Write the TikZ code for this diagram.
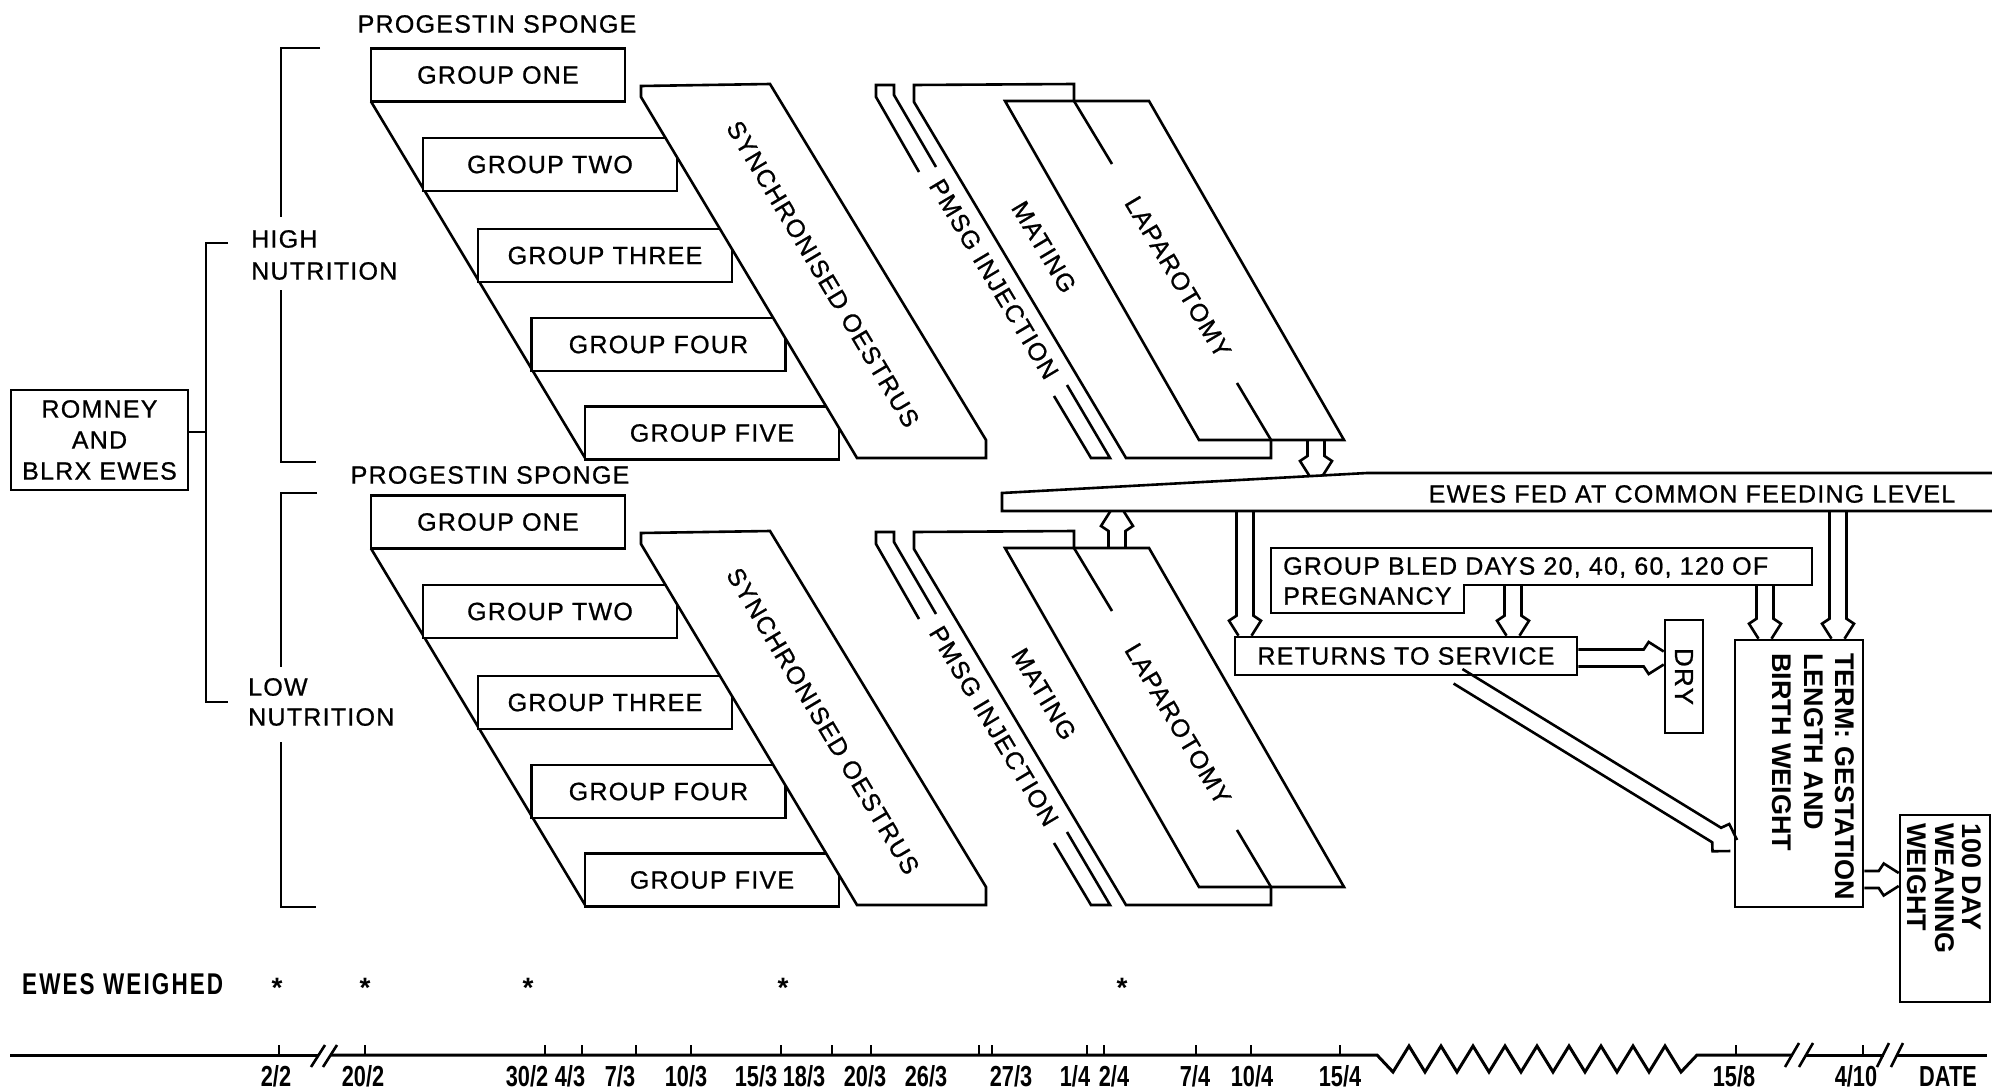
\documentclass[tikz,border=0pt]{standalone}
\usepackage{fontspec}
\setmainfont{Liberation Sans}
\newfontfamily\lsp{Liberation Sans}[LetterSpace=5, FakeBold=0.8]
\newfontfamily\cnd{Liberation Sans}[FakeStretch=0.75]
\newfontfamily\cndsp{Liberation Sans}[FakeStretch=0.75, LetterSpace=7]
\usetikzlibrary{calc}

\tikzset{
  ln/.style={line width=2.6pt, line join=miter},
  box/.style={ln, draw, fill=white, inner sep=0pt},
  gbox/.style={box, minimum width=254pt, minimum height=53pt, font=\lsp\fontsize{25}{30}\selectfont},
  txt/.style={inner sep=0pt, font=\lsp\fontsize{25}{30}\selectfont},
  btxt/.style={inner sep=0pt, font=\bfseries\fontsize{27}{31.5}\selectfont},
  lbl/.style={inner sep=0pt, anchor=base, font=\cnd\bfseries\fontsize{29}{32}\selectfont},
  slant/.style={txt, rotate=-59.2},
}

\newcommand\blockarrow[2]{%
  \path let \p1=(#1), \p2=(#2),
     \n1={atan2(\y2-\y1,\x2-\x1)}, \n2={veclen(\x2-\x1,\y2-\y1)} in
     \pgfextra{\xdef\BAang{\n1}\xdef\BAlen{\n2}};
  \draw[ln, shift={(#1)}, rotate=\BAang]
    (0pt,8.5pt) -- ({\BAlen*1pt-20pt},8.5pt) -- ({\BAlen*1pt-15pt},16pt) -- ({\BAlen*1pt},6.5pt)
    (0pt,-8.5pt) -- ({\BAlen*1pt-20pt},-8.5pt) -- ({\BAlen*1pt-15pt},-16pt) -- ({\BAlen*1pt},-6.5pt);
}

\newcommand\phaseblock[1]{%
  \draw[ln] (371,101.5) -- (586,459.5);
  \node[gbox] (#1g1) at (498,75) {GROUP ONE};
  \node[gbox] (#1g2) at (550,164.5) {GROUP TWO};
  \node[gbox] (#1g3) at (605,255.5) {GROUP THREE};
  \node[gbox] (#1g4) at (658.5,344.5) {GROUP FOUR};
  \node[gbox] (#1g5) at (712,433) {GROUP FIVE};
  \draw[ln, fill=white] (641,86) -- (770,84) -- (986,440) -- (986,458) -- (857,458) -- (641,97) -- cycle;
  \node[slant] (#1oes) at (823,274) {SYNCHRONISED OESTRUS};
  \draw[ln] (919,172) -- (876,97) -- (876,85) -- (894,85) -- (894,95) -- (936,167);
  \draw[ln] (1054,396) -- (1091,458) -- (1110,458) -- (1067,385);
  \node[slant] (#1pmsg) at (994,279) {PMSG INJECTION};
  \draw[ln] (1074,101) -- (1074,84) -- (914,85) -- (914,102) -- (1126,458) -- (1271,458) -- (1271,440);
  \draw[ln] (1074,101) -- (1112,164);
  \draw[ln] (1237,383) -- (1271,440);
  \draw[ln] (1005,101) -- (1149,101) -- (1344,440) -- (1199,440) -- cycle;
  \node[slant] (#1mat) at (1044,247) {MATING};
  \node[slant] (#1lap) at (1178,277) {LAPAROTOMY};
  \coordinate (#1lapB) at (1316,440);
  \coordinate (#1lapT) at (1117,101);
}

\begin{document}
\begin{tikzpicture}[x=1pt,y=-1pt]
\fill[white] (0,0) rectangle (1992,1092);
\useasboundingbox (0,0) rectangle (1992,1092);

% left part
\node[box, minimum width=177pt, minimum height=100pt, align=center, font=\lsp\fontsize{25}{31}\selectfont] (romney) at (99.5,440) {ROMNEY\\AND\\BLRX EWES};
\draw[ln] ([yshift=8pt]romney.east) -- (206,432);
\draw[ln] (228,243) -- (206,243) -- (206,702) -- (228,702);
\node[txt, align=left, anchor=west, font=\lsp\fontsize{25}{32}\selectfont] (high) at (251,255) {HIGH\\NUTRITION};
\node[txt, align=left, anchor=west] (low) at (248,702) {LOW\\NUTRITION};
\draw[ln] (320,48) -- (281,48) -- (281,217);
\draw[ln] (281,290) -- (281,462) -- (316,462);
\draw[ln] (317,493) -- (281,493) -- (281,667);
\draw[ln] (281,742) -- (281,907) -- (316,907);
\node[txt] (ps1) at (497,24) {PROGESTIN SPONGE};
\node[txt] (ps2) at (490,475) {PROGESTIN SPONGE};

\phaseblock{u}
\begin{scope}[shift={(0,447)}]\phaseblock{l}\end{scope}

% feeding bar
\draw[ln] (1992,473) -- (1367,473) -- (1002,493) -- (1002,511) -- (1992,511);
\node[txt] (feed) at (1692,494) {EWES FED AT COMMON FEEDING LEVEL};
\coordinate (barA) at (1316,476);
\coordinate (barB) at (1117,511);
\blockarrow{ulapB}{barA}
\blockarrow{llapT}{barB}

% group bled
\draw[ln] (1271,548) -- (1812,548) -- (1812,585) -- (1464,585) -- (1464,613) -- (1271,613) -- cycle;
\node[txt, align=left, anchor=north west] (bled) at (1283,557) {GROUP BLED DAYS 20, 40, 60, 120 OF\\PREGNANCY};

% boxes
\node[box, minimum width=342pt, minimum height=38pt, font=\lsp\fontsize{25}{30}\selectfont] (returns) at (1406,656) {RETURNS TO SERVICE};
\node[box, minimum width=38pt, minimum height=113pt] (dry) at (1684,676.5) {};
\node[txt, rotate=-90, font=\lsp\fontsize{26}{30}\selectfont] (drytxt) at (dry.center) {DRY};
\node[box, minimum width=128pt, minimum height=267pt] (term) at (1799,773.5) {};
\node[btxt, rotate=-90, align=left, anchor=north west] (termtxt) at (1855,653) {TERM: GESTATION\\LENGTH AND\\BIRTH WEIGHT};
\node[box, minimum width=90pt, minimum height=187pt] (wean) at (1945,908.5) {};
\node[btxt, rotate=-90, align=left, anchor=north west, font=\bfseries\fontsize{27}{27.5}\selectfont] (weantxt) at (1982,823) {100 DAY\\WEANING\\WEIGHT};

% arrows
\coordinate (b1) at (1245,511);
\coordinate (b2) at (1838,511);
\coordinate (bl1) at (1513,585);
\coordinate (bl2) at (1765,585);
\blockarrow{b1}{b1 |- returns.north}
\blockarrow{bl1}{bl1 |- returns.north}
\blockarrow{bl2}{bl2 |- term.north}
\blockarrow{b2}{b2 |- term.north}
\coordinate (rE) at ([yshift=-2pt]returns.east);
\blockarrow{rE}{rE -| dry.west}
\coordinate (rS) at ([xshift=52pt]returns.south);
\coordinate (tW) at ([yshift=-72pt]term.west);
\blockarrow{rS}{tW}
\coordinate (tE) at ([yshift=-106pt]term.east);
\blockarrow{tE}{tE -| wean.west}

% weighing
\node[inner sep=0pt, anchor=west, font=\cndsp\bfseries\fontsize{30}{32}\selectfont] (weighed) at (22,984) {EWES WEIGHED};
\foreach \x [count=\i] in {277,365,528,783,1122}
  \node[inner sep=0pt, font=\bfseries\fontsize{28}{28}\selectfont] (ast\i) at (\x,988) {*};

% timeline
\draw[ln, line width=3pt] (10,1055) -- (318,1055);
\draw[ln] (311,1067) -- (325,1045) (323,1067) -- (337,1045);
\draw[ln, line width=3pt] (330,1055) -- (1377,1055)
  \foreach \k in {0,...,8}{ -- ({1393+32*\k},1072) -- ({1409+32*\k},1046) }
  -- (1681,1072) -- (1697,1055) -- (1792,1055);
\draw[ln] (1785,1067) -- (1799,1043) (1799,1067) -- (1813,1043);
\draw[ln, line width=3pt] (1806,1055) -- (1884,1055);
\draw[ln] (1877,1067) -- (1889,1043) (1891,1067) -- (1903,1043);
\draw[ln, line width=3pt] (1896,1055) -- (1987,1055);
\foreach \t in {279,365,545,582,636,691,781,832,871,979,992,1087,1104,1196,1251,1340,1736,1863}
  \draw[ln] (\t,1055) -- (\t,1045);
\foreach \x/\a/\b [count=\i] in {276/2/2,363/20/2,527/30/2,570/4/3,620/7/3,686/10/3,756/15/3,804/18/3,865/20/3,926/26/3,1011/27/3,1075/1/4,1114/2/4,1195/7/4,1252/10/4,1340/15/4,1734/15/8,1856/4/10}
  \node[lbl] (d\i) at (\x,1086) {\a/\b};
\node[lbl] (date) at (1948,1086) {DATE};
\end{tikzpicture}
\end{document}
